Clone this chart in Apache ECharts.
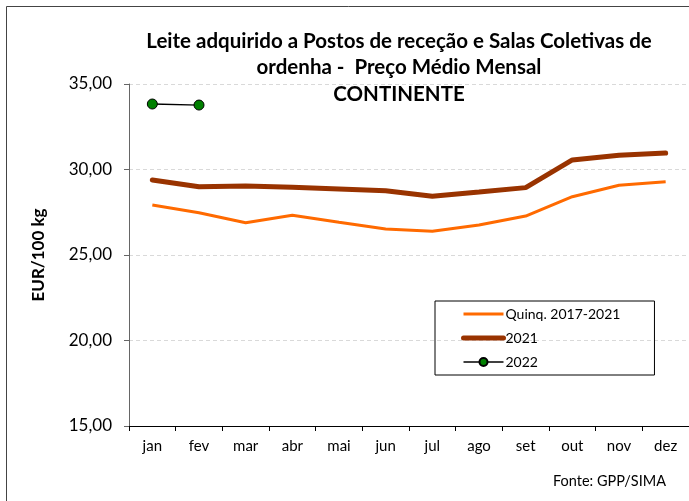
<!DOCTYPE html>
<html>
<head>
<meta charset="utf-8">
<script src="https://cdn.jsdelivr.net/npm/echarts@6/dist/echarts.min.js"></script>
<style>
  html, body { margin: 0; padding: 0; background: #fff; }
  #main { width: 689px; height: 501px; }
</style>
</head>
<body>
<div id="main"></div>
<script>
// meses
var months = ['jan', 'fev', 'mar', 'abr', 'mai', 'jun', 'jul', 'ago', 'set', 'out', 'nov', 'dez'];
// preços EUR/100 kg
var quinq = [27.92, 27.47, 26.89, 27.32, 26.91, 26.52, 26.39, 26.75, 27.28, 28.41, 29.08, 29.29];
var y2021 = [29.39, 28.99, 29.03, 28.96, 28.86, 28.76, 28.43, 28.68, 28.94, 30.56, 30.83, 30.96];
var y2022 = [33.83, 33.77];
var yTicks = [15, 20, 25, 30, 35];

var font = 'Lato, "Open Sans", sans-serif';

var myChart = echarts.init(document.getElementById('main'));
var option = {
    backgroundColor: '#fff',
    animation: false,
    textStyle: { fontFamily: font },
    title: {
        text: 'Leite adquirido a Postos de receção e Salas Coletivas de\nordenha -  Preço Médio Mensal\nCONTINENTE',
        left: 394,
        top: 23,
        textAlign: 'center',
        textStyle: {
            fontFamily: font,
            fontSize: 20.5,
            fontWeight: 'bold',
            color: '#000',
            lineHeight: 26.5
        }
    },
    graphic: [
        {
            type: 'rect',
            shape: { x: 6.5, y: 6.5, width: 700, height: 600 },
            style: { fill: 'none', stroke: '#444', lineWidth: 1 }
        },
        {
            type: 'text',
            right: 23,
            top: 474,
            style: { text: 'Fonte: GPP/SIMA', fontSize: 14.5, fontFamily: 'Lato', fill: '#000' }
        }
    ],
    legend: {
        orient: 'vertical',
        left: 435,
        top: 301,
        padding: [6, 34, 6, 26],
        itemWidth: 40,
        itemHeight: 10,
        itemGap: 10,
        borderColor: '#000',
        borderWidth: 1,
        borderRadius: 0,
        textStyle: { fontFamily: font, fontSize: 14, color: '#000', padding: [0, 0, 0, -3] },
        data: [
            { name: 'Quinq. 2017-2021', itemStyle: { opacity: 0 }, lineStyle: { width: 3 } },
            { name: '2021', itemStyle: { opacity: 0 }, lineStyle: { width: 5, cap: 'round' } },
            { name: '2022', lineStyle: { width: 1.3 } }
        ]
    },
    grid: {
        left: 129,
        right: 0,
        top: 84,
        bottom: 75
    },
    xAxis: {
        type: 'category',
        data: months,
        boundaryGap: true,
        axisLine: { lineStyle: { color: '#000', width: 1 } },
        axisTick: { show: true, length: 5, lineStyle: { color: '#000' } },
        axisLabel: { color: '#000', fontSize: 15, margin: 13, fontFamily: font }
    },
    yAxis: {
        type: 'value',
        min: yTicks[0],
        max: yTicks[yTicks.length - 1],
        interval: 5,
        name: 'EUR/100 kg',
        nameLocation: 'middle',
        nameGap: 82,
        nameTextStyle: { fontFamily: font, fontSize: 17, fontWeight: 'bold', color: '#000' },
        axisLine: { show: true, lineStyle: { color: '#666' } },
        axisTick: { show: true, length: 5, lineStyle: { color: '#666' } },
        axisLabel: {
            color: '#000',
            fontSize: 17,
            margin: 17,
            fontFamily: font,
            formatter: function (v) { return v.toFixed(2).replace('.', ','); }
        },
        splitLine: { lineStyle: { color: '#d9d9d9', type: [4, 3] } }
    },
    series: [
        {
            name: 'Quinq. 2017-2021',
            type: 'line',
            data: quinq,
            symbol: 'none',
            color: '#ff6a00',
            lineStyle: { width: 3, color: '#ff6a00' }
        },
        {
            name: '2021',
            type: 'line',
            data: y2021,
            symbol: 'none',
            color: '#993300',
            lineStyle: { width: 5, color: '#993300', cap: 'round' }
        },
        {
            name: '2022',
            type: 'line',
            data: y2022,
            symbol: 'circle',
            symbolSize: 10,
            color: '#008000',
            itemStyle: { color: '#008000', borderColor: '#000', borderWidth: 1 },
            lineStyle: { width: 1.3, color: '#000' }
        }
    ]
};
myChart.setOption(option);
</script>
</body>
</html>
